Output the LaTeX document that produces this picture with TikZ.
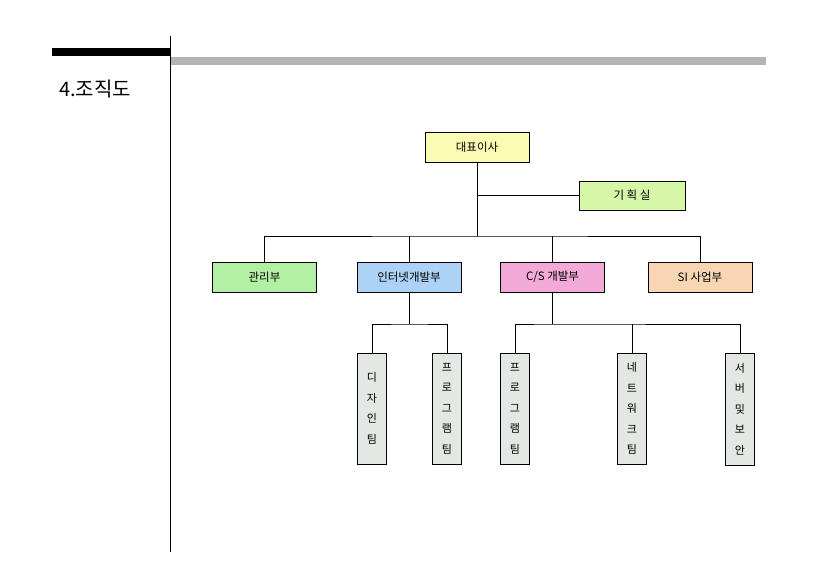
\documentclass[tikz,border=0pt]{standalone}
\usepackage{fontspec}
\setmainfont{Noto Sans CJK KR}
\begin{document}
\begin{tikzpicture}[x=1pt,y=-1pt,
  box/.style={draw=black,line width=0.6pt,minimum width=104pt,minimum height=30pt,inner sep=0pt,font=\fontsize{11.5}{13}\selectfont},
  vbox/.style={draw=black,line width=0.6pt,minimum width=29pt,minimum height=111pt,inner sep=0pt,fill=vgray,font=\fontsize{11}{20.5}\selectfont,align=center},
  conn/.style={line width=0.7pt}]
\definecolor{cyel}{HTML}{FBFBB4}
\definecolor{cgrn}{HTML}{D6F7A8}
\definecolor{cgrn2}{HTML}{B4F0A4}
\definecolor{cblu}{HTML}{ACD2F6}
\definecolor{cpnk}{HTML}{F4AAD8}
\definecolor{cpch}{HTML}{F8D6B4}
\definecolor{vgray}{HTML}{E4E8E4}
\definecolor{bgray}{HTML}{B4B4B4}
\useasboundingbox (0,0) rectangle (840,585);
% header
\fill[black] (52,48) rectangle (170,56);
\fill[bgray] (170,57) rectangle (766,65);
\draw[line width=0.8pt] (170,36) -- (170,552);
\node[anchor=west,font=\fontsize{20}{22}\selectfont,inner sep=0pt] (title) at (59,89) {4.조직도};
% level 0/1
\node[box,fill=cyel] (ceo) at (477,147) {대표이사};
\node[box,fill=cgrn,minimum width=106pt,minimum height=29pt] (plan) at (632,195.5) {기 획 실};
% level 2
\node[box,fill=cgrn2] (adm) at (264.5,277) {관리부};
\node[box,fill=cblu] (net) at (409,277) {인터넷개발부};
\node[box,fill=cpnk] (cs) at (552.5,277) {C/S 개발부};
\node[box,fill=cpch] (si) at (700,277) {SI 사업부};
% level 3
\node[vbox] (des) at (372,408.5) {디\\자\\인\\팀};
\node[vbox] (prg1) at (447,408.5) {프\\로\\그\\램\\팀};
\node[vbox] (prg2) at (515,408.5) {프\\로\\그\\램\\팀};
\node[vbox] (nw) at (632,408.5) {네\\트\\워\\크\\팀};
\node[vbox,minimum height=112pt] (srv) at (740,409) {서\\버\\및\\보\\안};
% connectors
\coordinate (bus) at (477,236);
\draw[conn] (ceo.south) -- (bus);
\draw[conn] (ceo.south |- plan.west) -- (plan.west);
\draw[conn] (adm.north) |- (bus) -| (si.north);
\draw[conn] (net.north) -- (net.north |- bus);
\draw[conn] (cs.north) -- (cs.north |- bus);
\coordinate (nb) at (409,324);
\draw[conn] (net.south) -- (nb);
\draw[conn] (des.north) |- (nb) -| (prg1.north);
\coordinate (cb) at (552.5,324);
\draw[conn] (cs.south) -- (cb);
\draw[conn] (prg2.north) |- (cb) -| (srv.north);
\draw[conn] (nw.north) -- (nw.north |- cb);
\end{tikzpicture}
\end{document}
